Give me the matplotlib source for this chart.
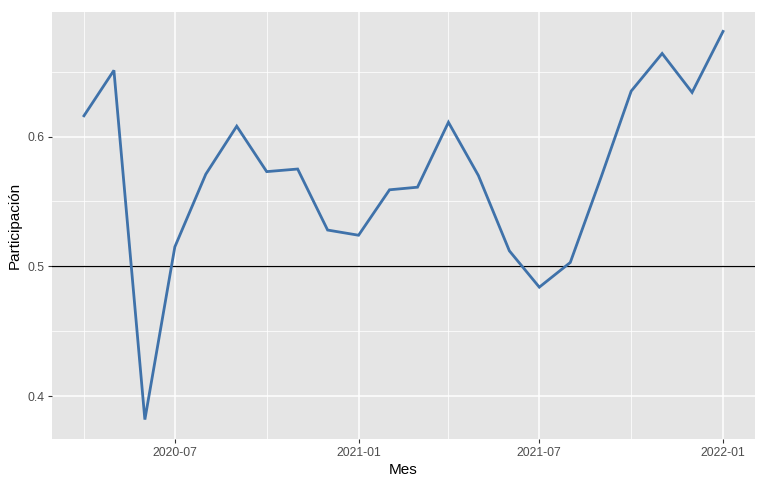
import matplotlib
matplotlib.use("Agg")
import matplotlib.pyplot as plt
import matplotlib.dates as mdates
import numpy as np

plt.rcParams['font.family'] = ['Liberation Sans', 'DejaVu Sans']

# monthly participation
meses = np.arange('2020-04', '2022-02', dtype='datetime64[M]').astype('datetime64[D]')
participacion = [0.616, 0.651, 0.382, 0.515, 0.571, 0.608, 0.573, 0.575,
                 0.528, 0.524, 0.559, 0.561, 0.611, 0.570, 0.512, 0.484,
                 0.503, 0.569, 0.635, 0.664, 0.634, 0.681]
x_major = ['2020-07-01', '2021-01-01', '2021-07-01', '2022-01-01']
x_minor = ['2020-04-01', '2020-10-01', '2021-04-01', '2021-10-01']
y_major = [0.4, 0.5, 0.6]
y_minor = [0.45, 0.55, 0.65]

fig = plt.figure(figsize=(7.69, 4.78), dpi=100)
ax = fig.add_axes([52/769, 1-439/478, 703/769, 427/478])
ax.set_facecolor('#e5e5e5')
for s in ax.spines.values():
    s.set_visible(False)

xd = mdates.date2num(meses)
ax.plot(xd, participacion, color='#3f72aa', lw=2.0, solid_joinstyle='miter', zorder=3)
ax.axhline(0.5, color='black', lw=0.9, zorder=2)

span = xd[-1] - xd[0]
ax.set_xlim(xd[0] - 0.05*span, xd[-1] + 0.05*span)
yr = max(participacion) - min(participacion)
ax.set_ylim(min(participacion) - 0.05*yr, max(participacion) + 0.05*yr)

ax.set_xticks(mdates.date2num(np.array(x_major, dtype='datetime64[D]')))
ax.set_xticklabels([d[:7] for d in x_major])
ax.set_xticks(mdates.date2num(np.array(x_minor, dtype='datetime64[D]')), minor=True)
ax.set_yticks(y_major)
ax.set_yticklabels([str(v) for v in y_major])
ax.set_yticks(y_minor, minor=True)

ax.grid(which='major', color='white', lw=1.1, zorder=0)
ax.grid(which='minor', color='white', lw=0.55, zorder=0)
ax.set_axisbelow(True)
ax.tick_params(which='major', length=3, width=0.8, color='#333333',
               labelcolor='#4d4d4d', labelsize=8.8, pad=2.5)
ax.tick_params(which='minor', length=0)

ax.set_xlabel('Mes', fontsize=11, labelpad=3)
ax.set_ylabel('Participación', fontsize=11, labelpad=4)

fig.savefig('out.png', dpi=100)
